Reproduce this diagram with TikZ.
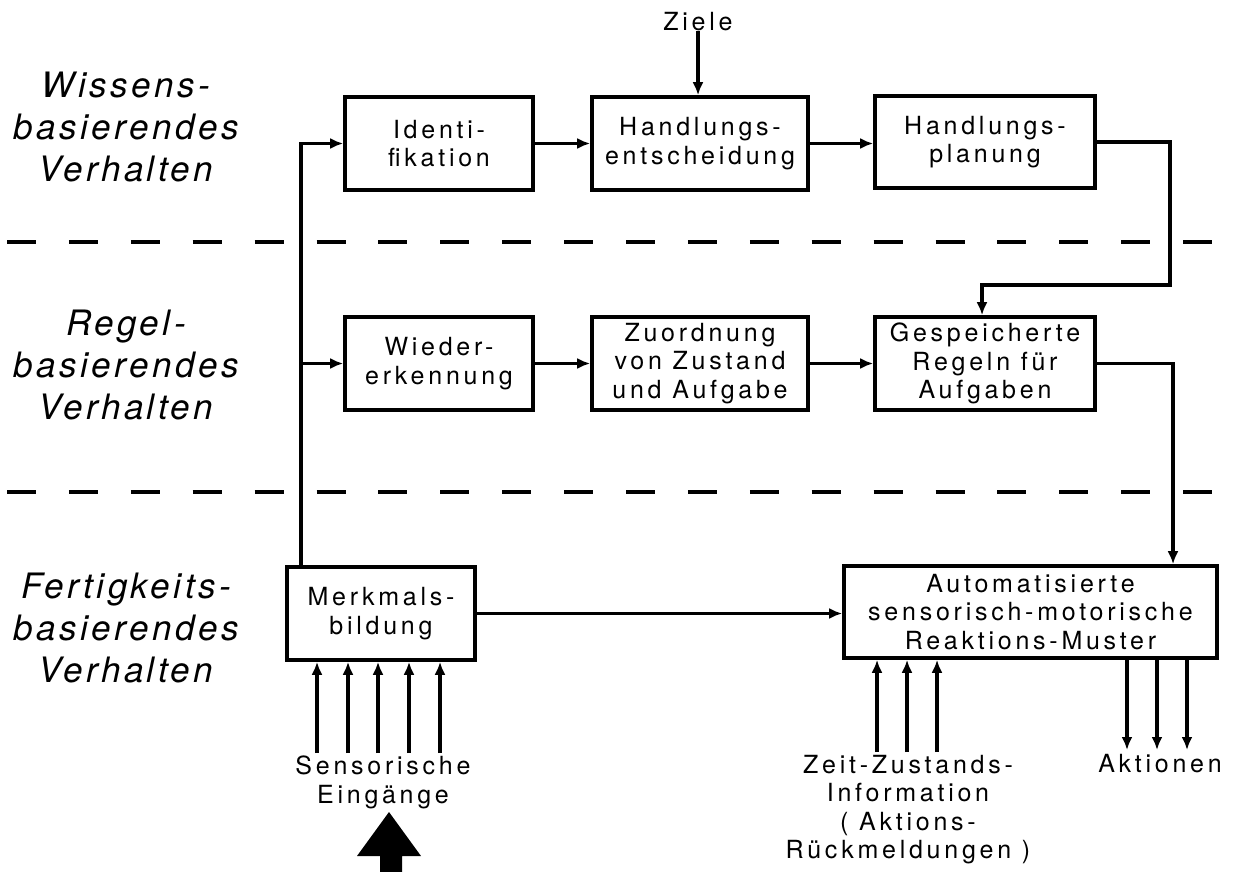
\documentclass[tikz,border=0pt]{standalone}
\usepackage{fontspec}
\usetikzlibrary{arrows.meta,calc}
\newfontfamily\boxfont[LetterSpace=15]{TeX Gyre Heros}
\newfontfamily\sidefont[LetterSpace=10]{TeX Gyre Heros}
\begin{document}
\begin{tikzpicture}[x=1pt,y=-1pt,
  block/.style={draw,line width=3.6pt,inner sep=0pt,align=center,
    font=\boxfont\fontsize{25}{28.5}\selectfont},
  lbl/.style={inner sep=0pt,align=center,font=\boxfont\fontsize{25}{28.5}\selectfont},
  side/.style={inner sep=0pt,align=center,font=\sidefont\itshape\fontsize{35}{42}\selectfont},
  flow/.style={line width=3.2pt,-{Latex[length=13pt,width=11pt]}},
  divider/.style={line width=3.4pt,dash pattern=on 29pt off 32.9pt}]
\useasboundingbox (0,0) rectangle (1234,872);

% level labels
\node[side] (lw) at (126,127) {Wissens-\\basierendes\\Verhalten};
\node[side] (lr) at (126,365) {Regel-\\basierendes\\Verhalten};
\node[side] (lf) at (126,628) {Fertigkeits-\\basierendes\\Verhalten};

% level separators
\coordinate (d1a) at (7,242);   \coordinate (d1b) at (1215,242);
\coordinate (d2a) at (7,492);   \coordinate (d2b) at (1215,492);
\draw[divider] (d1a) -- (d1b);
\draw[divider] (d2a) -- (d2b);

% knowledge-based level
\node[block,minimum width=188,minimum height=93] (ident) at (439,143.5) {Identi-\\fikation};
\node[block,minimum width=216,minimum height=93] (hent) at (700,143.5) {Handlungs-\\entscheidung};
\node[block,minimum width=220,minimum height=92] (hplan) at (985,142) {Handlungs-\\planung};
\node[lbl,anchor=north] (ziele) at (698,12) {Ziele};

% rule-based level
\node[block,minimum width=188,minimum height=93] (wied) at (439,363.5) {Wieder-\\erkennung};
\node[block,minimum width=216,minimum height=93] (zuord) at (700,363.5) {Zuordnung\\von Zustand\\und Aufgabe};
\node[block,minimum width=220,minimum height=93] (gesp) at (985,363.5) {Gespeicherte\\Regeln für\\Aufgaben};

% skill-based level
\node[block,minimum width=188,minimum height=93] (merk) at (381,613.5) {Merkmals-\\bildung};
\node[block,minimum width=373,minimum height=92] (auto) at (1030.5,612) {Automatisierte\\sensorisch-motorische\\Reaktions-Muster};

% routing points
\coordinate (trunk) at (301,0);
\coordinate (rplan) at (1170,0);
\coordinate (drop) at (982,285);
\coordinate (rgesp) at (1173,0);

% connectors
\draw[flow] (ziele.south) -- (ziele.south |- hent.north);
\draw[flow] (ident.east) -- (hent.west);
\draw[flow] (hent.east) -- (hent.east -| hplan.west);
\draw[flow] (hplan.east) -| (rplan |- drop) -- (drop) -- (drop |- gesp.north);
\draw[flow] (trunk |- merk.north) |- (ident.west);
\draw[flow] (trunk |- wied.west) -- (wied.west);
\draw[flow] (wied.east) -- (zuord.west);
\draw[flow] (zuord.east) -- (gesp.west);
\draw[flow] (gesp.east) -| (rgesp |- auto.north);
\draw[flow] (merk.east) -- (merk.east -| auto.west);

% sensory inputs
\foreach \x [count=\i] in {317,348,378,409,440} {
  \coordinate (sin\i) at (\x,753);
  \draw[flow] (sin\i) -- (sin\i |- merk.south);
}
\node[lbl,anchor=north] (sens) at (383,756) {Sensorische\\Eingänge};
\fill (389,812) -- (421,856) -- (402,856) -- (402,872) -- (380,872) -- (380,856) -- (357,856) -- cycle;

% feedback inputs and actions
\foreach \x [count=\i] in {877,907,937} {
  \coordinate (fb\i) at (\x,752);
  \draw[flow] (fb\i) -- (fb\i |- auto.south);
}
\foreach \x [count=\i] in {1127,1157,1187} {
  \coordinate (act\i) at (\x,750);
  \draw[flow] (act\i |- auto.south) -- (act\i);
}
\node[lbl,anchor=north] (zeit) at (908,755) {Zeit-Zustands-\\Information\\( Aktions-\\Rückmeldungen )};
\node[lbl,anchor=north] (akt) at (1160,754) {Aktionen};
\end{tikzpicture}
\end{document}
